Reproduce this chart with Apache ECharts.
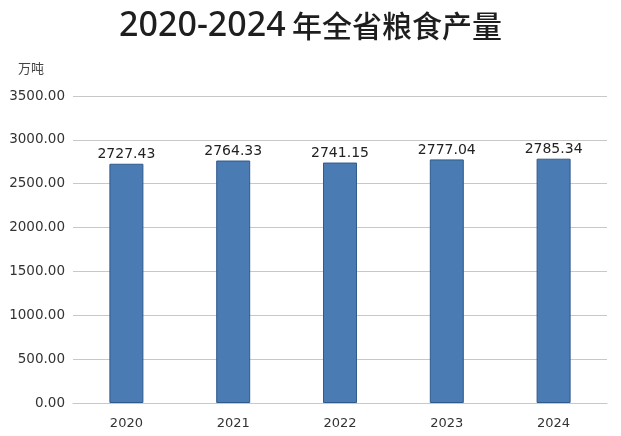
<!DOCTYPE html>
<html>
<head>
<meta charset="utf-8">
<title>2020-2024年全省粮食产量</title>
<script src="https://cdn.jsdelivr.net/npm/echarts@6/dist/echarts.min.js"></script>
<style>
html,body{margin:0;padding:0;background:#fff;}
#main{width:621px;height:436px;}
</style>
</head>
<body>
<div id="main"></div>
<script type="text/javascript">
// 年份与产量（万吨）
var years = ['2020', '2021', '2022', '2023', '2024'];
var output = [2727.43, 2764.33, 2741.15, 2777.04, 2785.34];
var unitName = '万吨';

var chart = echarts.init(document.getElementById('main'));

chart.setOption({
    animation: false,
    textStyle: { fontFamily: '"DejaVu Sans", sans-serif' },
    title: {
        text: '{n|2020-2024} {c|年全省粮食产量}',
        left: 'center',
        top: 4,
        textStyle: {
            rich: {
                n: { fontFamily: '"Noto Sans", sans-serif', fontSize: 34, fontWeight: 500, color: '#1e1e1e' },
                c: { fontFamily: '"Noto Sans CJK SC", sans-serif', fontSize: 30, fontWeight: 500, color: '#1e1e1e' }
            }
        }
    },
    // 单位文字
    graphic: [{
        type: 'text',
        left: 18,
        top: 62,
        style: {
            text: unitName,
            font: '13px "Noto Sans CJK SC", sans-serif',
            fill: '#444'
        }
    }],
    grid: { left: 73, right: 14, top: 96, bottom: 33 },
    xAxis: {
        type: 'category',
        data: years,
        axisTick: { show: false },
        axisLine: { lineStyle: { color: '#c8c8c8' } },
        axisLabel: { fontSize: 13, color: '#333', margin: 14 }
    },
    yAxis: {
        type: 'value',
        min: 0,
        max: 3500,
        interval: 500,
        axisLabel: {
            fontSize: 13.5, color: '#333', margin: 8,
            formatter: function (v) { return v.toFixed(2); }
        },
        splitLine: { lineStyle: { color: '#c8c8c8' } }
    },
    series: [{
        name: '粮食产量',
        type: 'bar',
        data: output,
        barWidth: 34,
        itemStyle: { color: '#4a7bb2', borderColor: '#2f5a8c', borderWidth: 1 },
        label: {
            show: true,
            position: 'top',
            distance: 2,
            fontSize: 14,
            color: '#222',
            formatter: function (p) { return p.value.toFixed(2); }
        }
    }]
});

window.onresize = function () {
    chart.resize();
};
</script>
</body>
</html>
